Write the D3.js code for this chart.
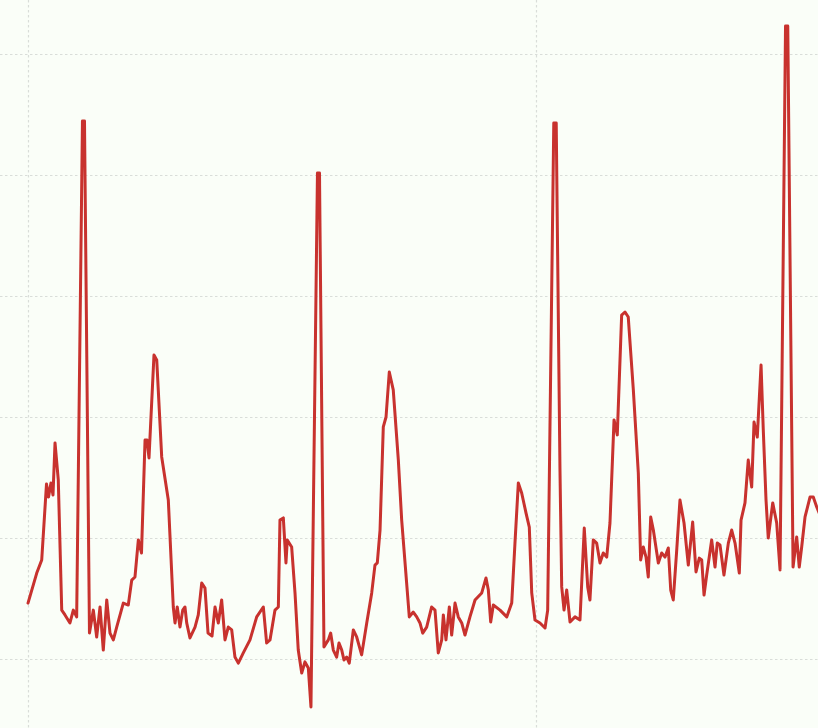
<!DOCTYPE html>
<html><head><meta charset="utf-8">
<script src="https://cdn.jsdelivr.net/npm/d3@7"></script>
<style>html,body{margin:0;padding:0;background:#fafef8;}svg{display:block;}</style>
</head><body><svg id="c" width="818" height="728"></svg>
<script>
// time in ms, voltage in mV
const timeMs = [0,8.6,13.5,18.2,20.2,22.6,24.6,26.6,29.8,33.2,36.4,41.3,44.6,47.9,53.6,55.6,60.5,64.3,67.6,70.9,74.1,77.5,80.7,84.0,87.3,93.8,98.7,102.1,105.3,108.6,111.7,115.2,117.1,119.1,124.0,126.7,131.6,138.1,143.0,144.7,146.9,149.6,152.3,154.5,156.2,159.4,164.4,167.6,171.0,174.2,177.2,181.1,184.1,187.3,190.6,193.9,197.1,200.5,203.7,207.0,211.9,218.5,225.1,231.6,234.9,238.2,243.1,246.4,248.0,251.3,253.9,255.2,259.5,262.8,266.0,269.4,272.6,275.9,278.5,284.9,286.9,291.3,295.6,297.9,300.5,303.8,306.1,308.8,311.0,313.7,316.2,320.2,323.5,328.4,333.4,338.3,341.5,343.8,346.5,349.7,352.4,355.6,359.5,364.5,367.8,375.3,379.2,382.6,385.8,388.5,392.4,397.3,400.6,403.8,407.2,408.8,411.4,414.7,417.0,420.3,423.5,426.9,430.1,435.0,440.0,446.6,450.8,453.1,455.4,458.0,464.6,471.2,476.1,479.3,482.6,485.9,490.2,493.4,495.8,499.0,503.9,508.9,511.5,517.5,519.9,523.6,525.3,527.6,530.2,533.5,538.4,543.3,547.5,550.9,553.1,556.4,559.7,563.0,566.2,569.6,572.8,576.8,580.0,584.3,587.6,590.8,595.8,600.7,603.0,605.6,608.3,610.5,612.9,615.5,620.4,623.7,627.0,630.2,632.6,635.1,638.5,641.7,645.7,649.9,654.2,657.5,660.7,663.1,665.4,668.0,672.9,676.2,678.4,681.1,685.0,689.3,692.6,695.9,700.1,701.8,705.7,708.9,712.3,714.6,717.8,721.5,723.7,726.4,728.6,733.0,736.9,740.2,745.6,747.8,753.0,756.6,759.1,761.5,764.8,769.7,772.9,776.3,779.5];
const voltMv = [0.231,0.355,0.409,0.723,0.669,0.727,0.678,0.893,0.740,0.202,0.182,0.149,0.202,0.174,2.223,2.223,0.107,0.202,0.091,0.215,0.037,0.244,0.107,0.079,0.132,0.231,0.223,0.326,0.339,0.492,0.438,0.905,0.905,0.831,1.256,1.236,0.835,0.657,0.215,0.149,0.215,0.132,0.202,0.215,0.149,0.087,0.132,0.182,0.314,0.293,0.107,0.095,0.215,0.149,0.244,0.079,0.132,0.120,0.008,-0.017,0.025,0.079,0.174,0.215,0.066,0.079,0.202,0.215,0.574,0.583,0.397,0.492,0.463,0.273,0.037,-0.058,-0.012,-0.037,-0.198,2.008,2.008,0.050,0.079,0.107,0.037,0.008,0.066,0.037,-0.004,0.008,-0.017,0.120,0.091,0.017,0.149,0.273,0.388,0.397,0.533,0.959,1.000,1.186,1.112,0.822,0.574,0.174,0.194,0.174,0.149,0.107,0.132,0.215,0.202,0.025,0.079,0.182,0.079,0.215,0.099,0.231,0.174,0.149,0.099,0.174,0.244,0.273,0.335,0.285,0.153,0.223,0.202,0.174,0.231,0.479,0.727,0.686,0.603,0.545,0.273,0.161,0.149,0.128,0.202,2.215,2.215,0.781,0.298,0.202,0.285,0.153,0.174,0.161,0.541,0.298,0.244,0.492,0.479,0.397,0.438,0.421,0.562,0.988,0.926,1.421,1.434,1.413,1.112,0.769,0.409,0.463,0.421,0.339,0.587,0.533,0.397,0.438,0.421,0.459,0.285,0.244,0.450,0.657,0.562,0.388,0.566,0.360,0.417,0.409,0.264,0.347,0.492,0.380,0.479,0.471,0.347,0.479,0.533,0.479,0.355,0.574,0.645,0.822,0.711,0.979,0.917,1.215,0.946,0.657,0.500,0.645,0.562,0.368,2.616,2.616,0.380,0.504,0.380,0.463,0.587,0.669,0.669,0.628,0.595];
const xTicks = [0, 500];
const yTicks = [0, 0.5, 1.0, 1.5, 2.0, 2.5];

const W = 818, H = 728;
const svg = d3.select('#c');
svg.append('rect').attr('width', W).attr('height', H).attr('fill', '#fafef8');

const defs = svg.append('defs');
defs.append('filter').attr('id', 'soft').attr('x', '-5%').attr('y', '-5%').attr('width', '110%').attr('height', '110%')
  .append('feGaussianBlur').attr('stdDeviation', 0.45);

const x = d3.scaleLinear().domain([0, 500]).range([28, 536]);
const y = d3.scaleLinear().domain([0, 2.5]).range([659, 54]);

const grid = svg.append('g').attr('stroke', '#d9ddd9').attr('stroke-width', 1.2).attr('stroke-dasharray', '2.5,2.5');
grid.selectAll('line.h').data(yTicks).join('line').attr('class', 'h')
  .attr('x1', 0).attr('x2', W).attr('y1', d => Math.round(y(d)) + 0.5).attr('y2', d => Math.round(y(d)) + 0.5);
grid.selectAll('line.v').data(xTicks).join('line').attr('class', 'v')
  .attr('y1', 0).attr('y2', H).attr('x1', d => Math.round(x(d)) + 0.5).attr('x2', d => Math.round(x(d)) + 0.5);

const pts = timeMs.map((t, i) => [t, voltMv[i]]);
const line = d3.line().x(d => x(d[0])).y(d => y(d[1]));
svg.append('path').datum(pts).attr('d', line)
  .attr('fill', 'none').attr('stroke', '#c8312e').attr('stroke-width', 3.0)
  .attr('stroke-linejoin', 'round').attr('stroke-linecap', 'round')
  .attr('filter', 'url(#soft)');
</script></body></html>
